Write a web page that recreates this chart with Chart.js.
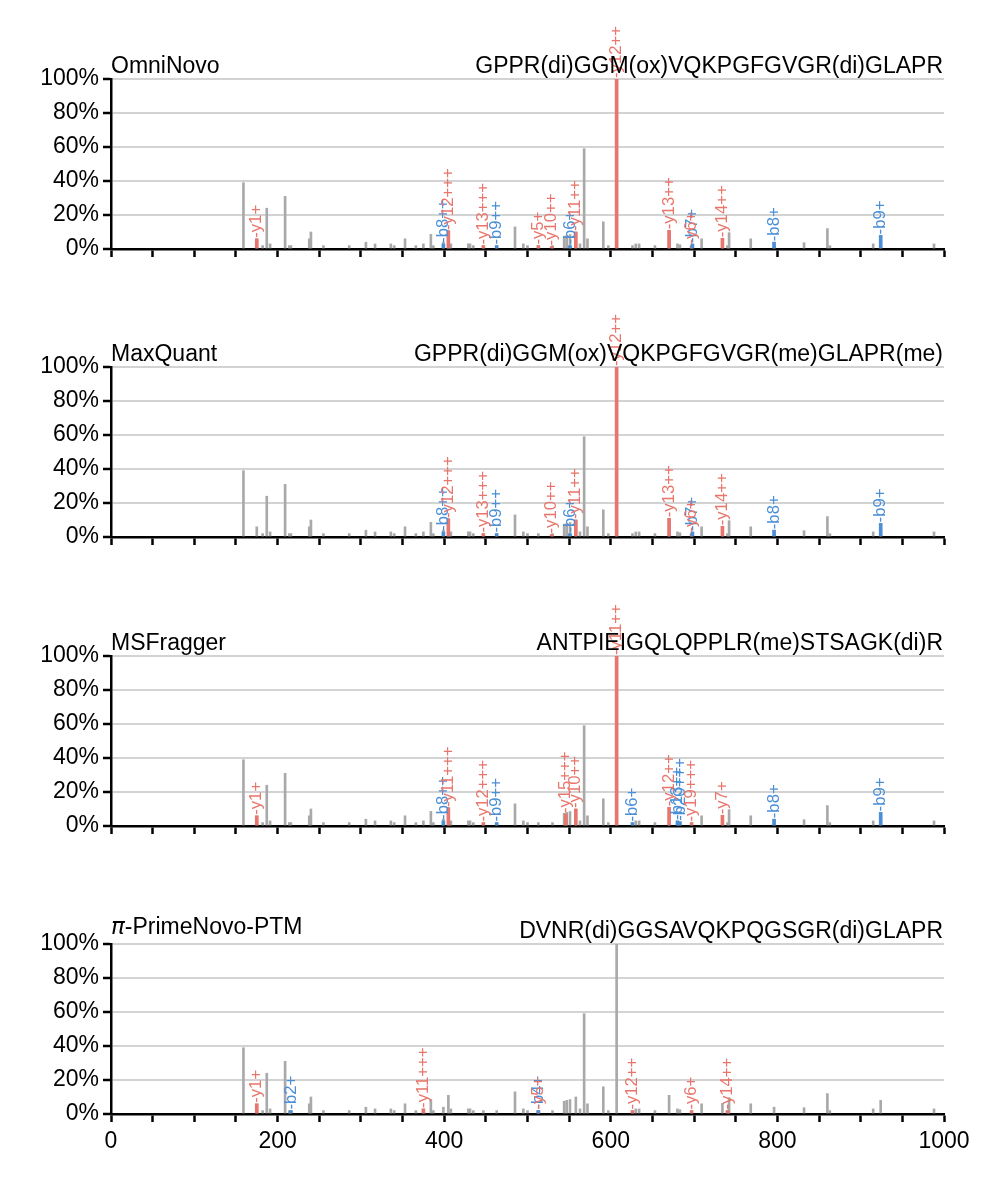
<!DOCTYPE html>
<html>
<head>
<meta charset="utf-8">
<script src="https://cdn.jsdelivr.net/npm/chart.js@4.4.1/dist/chart.umd.min.js"></script>
<style>
  html, body { margin: 0; padding: 0; background: #fff; }
  #wrap { position: relative; width: 998px; height: 1185px; overflow: hidden; }
  #wrap canvas { position: absolute; left: 0; }
</style>
</head>
<body>
<div id="wrap"></div>
<script>
// spectrum (m/z, relative intensity %)
const peakMz  = [159,175,182,187,191,209,214,216,238,240,255,286,306,317,336,340,353,366,375,384,387,399,405,408,429,431,435,447,463,485,495,500,513,530,544,547,551,558,563,568,572,591,597,607,626,630,634,653,670,680,683,697,709,734,740,742,768,796,832,860,863,915,924,988];
const peakInt = [39,6,2,24,3,31,2,2,6,10,2,2,4,3,3,2,6,2,3,8.6,2,4,11,3,3,3,2,2,2,13,3,2,2,2,7.5,8,8.5,10,3,59,6,16,2,100,2,3,3,2,11,3,2.5,2,6,6.3,2,9.6,6,4,3.7,12,2,3,8,3];

const methods  = ['OmniNovo', 'MaxQuant', 'MSFragger', 'π-PrimeNovo-PTM'];
const peptides = [
  'GPPR(di)GGM(ox)VQKPGFGVGR(di)GLAPR',
  'GPPR(di)GGM(ox)VQKPGFGVGR(me)GLAPR(me)',
  'ANTPIEIGQLQPPLR(me)STSAGK(di)R',
  'DVNR(di)GGSAVQKPQGSGR(di)GLAPR'
];

// matched fragment ions per method
const omniIons = ['y1+','b8++','y12+++','y13+++','b9++','y5+','y10++','b6+','y11++','y12++','y13++','y6+','b7+','y14++','b8+','b9+'];
const omniMz   = [175,399,405,447,463,513,529,551,558,607,670,697,698,734,796,924];
const omniInt  = [6,3,10.6,2,2,2,1.5,2,10,100,11,2,3,6.3,4,8];

const maxqIons = ['b8++','y12+++','y13+++','b9++','y10++','b6+','y11++','y12++','y13++','y6+','b7+','y14++','b8+','b9+'];
const maxqMz   = [399,405,447,463,529,551,558,607,670,697,698,734,796,924];
const maxqInt  = [3,10.6,2,2,1.5,2,10,100,11,2,3,6.3,4,8];

const msfIons = ['y1+','b8++','y11+++','y12+++','b9++','y15+++','y10++','y11++','b6+','y12++','b13++','b20+++','y19+++','y7+','b8+','b9+'];
const msfMz   = [175,399,405,447,463,546,558,607,626,670,680,683,697,734,796,924];
const msfInt  = [6,3,10.6,2,2,7,10,100,2,11,3,2.5,2,6.3,4,8];

const pnIons = ['y1+','b2+','y11+++','b4+','y5+','y12++','y6+','y14++'];
const pnMz   = [175,216,375,513,513,626,697,740];
const pnInt  = [6,2,3,2,2,2,2,2];

const xTicks = [0, 200, 400, 600, 800, 1000];

const panelIons = [[omniIons, omniMz, omniInt], [maxqIons, maxqMz, maxqInt], [msfIons, msfMz, msfInt], [pnIons, pnMz, pnInt]];

const RED = '#e8766c';
const BLUE = '#4b8fd7';
const GREY = '#a9a9a9';
const FONT = '"Liberation Sans", Arial, Helvetica, sans-serif';

const canvasTop = [0, 288, 577, 865];
const canvasH = [288, 289, 288, 320];

/* ion labels, drawn rotated above each matched peak */
const ionLabelPlugin = {
  id: 'ionLabels',
  afterDatasetsDraw(chart) {
    const ctx = chart.ctx;
    chart.data.datasets.forEach((ds, di) => {
      if (!ds.ions) return;
      const meta = chart.getDatasetMeta(di);
      meta.data.forEach((bar, i) => {
        ctx.save();
        ctx.translate(bar.x, bar.y - 1);
        ctx.rotate(-Math.PI / 2);
        ctx.font = '16.7px ' + FONT;
        ctx.fillStyle = ds.backgroundColor;
        ctx.textAlign = 'left';
        ctx.textBaseline = 'middle';
        ctx.fillText('-' + ds.ions[i], 0, 0);
        ctx.restore();
      });
    });
  }
};

/* method name on the left, peptide on the right */
const headerPlugin = {
  id: 'header',
  afterDraw(chart, args, opts) {
    const ctx = chart.ctx;
    const area = chart.chartArea;
    ctx.save();
    ctx.fillStyle = '#000';
    ctx.textBaseline = 'alphabetic';
    let name = opts.method;
    let x = area.left;
    let yLeft = area.top - 6;
    if (name.startsWith('π')) {
      yLeft = area.top - 10;
      ctx.font = 'italic 23px "DejaVu Sans", ' + FONT;
      ctx.textAlign = 'left';
      ctx.fillText('π', x, yLeft);
      x += ctx.measureText('π').width;
      name = name.slice(1);
    }
    ctx.font = '23px ' + FONT;
    ctx.textAlign = 'left';
    ctx.fillText(name, x, yLeft);
    ctx.textAlign = 'right';
    ctx.fillText(opts.peptide, area.right - 1, area.top - 6);
    ctx.restore();
  }
};

const wrap = document.getElementById('wrap');

for (let p = 0; p < 4; p++) {
  const cv = document.createElement('canvas');
  cv.width = 998;
  cv.height = canvasH[p];
  cv.style.top = canvasTop[p] + 'px';
  wrap.appendChild(cv);

  const [ions, mzs, ints] = panelIons[p];
  const redIdx = ions.map((s, i) => i).filter(i => ions[i][0] === 'y');
  const blueIdx = ions.map((s, i) => i).filter(i => ions[i][0] === 'b');
  const last = p === 3;
  const H = canvasH[p];

  new Chart(cv, {
    type: 'bar',
    data: {
      datasets: [
        {
          data: blueIdx.map(i => ({ x: mzs[i], y: ints[i] })),
          ions: blueIdx.map(i => ions[i]),
          backgroundColor: BLUE,
          barThickness: 3,
          grouped: false,
          order: 1
        },
        {
          data: redIdx.map(i => ({ x: mzs[i], y: ints[i] })),
          ions: redIdx.map(i => ions[i]),
          backgroundColor: RED,
          barThickness: 3,
          grouped: false,
          order: 1
        },
        {
          data: peakMz.map((m, i) => ({ x: m, y: peakInt[i] })),
          backgroundColor: GREY,
          barThickness: 2,
          grouped: false,
          order: 2
        }
      ]
    },
    options: {
      responsive: false,
      animation: false,
      events: [],
      layout: { padding: { left: 0, right: 54, top: 79, bottom: 0 } },
      plugins: {
        legend: { display: false },
        tooltip: { enabled: false },
        header: { method: methods[p], peptide: peptides[p] }
      },
      scales: {
        x: {
          type: 'linear',
          min: 0,
          max: 1000,
          offset: false,
          grid: { display: true, drawOnChartArea: false, offset: false, tickLength: 8, tickColor: '#000', tickWidth: 2.5 },
          border: { color: '#000', width: 2.5 },
          ticks: {
            stepSize: 50,
            autoSkip: false,
            maxRotation: 0,
            padding: 6,
            color: '#000',
            font: { family: FONT, size: 23 },
            callback: v => (last && xTicks.includes(v)) ? String(v) : ''
          },
          afterFit: s => { s.height = H - 249; }
        },
        y: {
          min: 0,
          max: 100,
          grid: { color: '#d3d3d3', lineWidth: 2, tickLength: 8, tickColor: '#000', tickWidth: 2.5 },
          border: { color: '#000', width: 2.5 },
          ticks: {
            stepSize: 20,
            padding: 4,
            color: '#000',
            font: { family: FONT, size: 23 },
            callback: v => v + '%'
          },
          afterFit: s => { s.width = 111; }
        }
      }
    },
    plugins: [ionLabelPlugin, headerPlugin]
  });
}
</script>
</body>
</html>
